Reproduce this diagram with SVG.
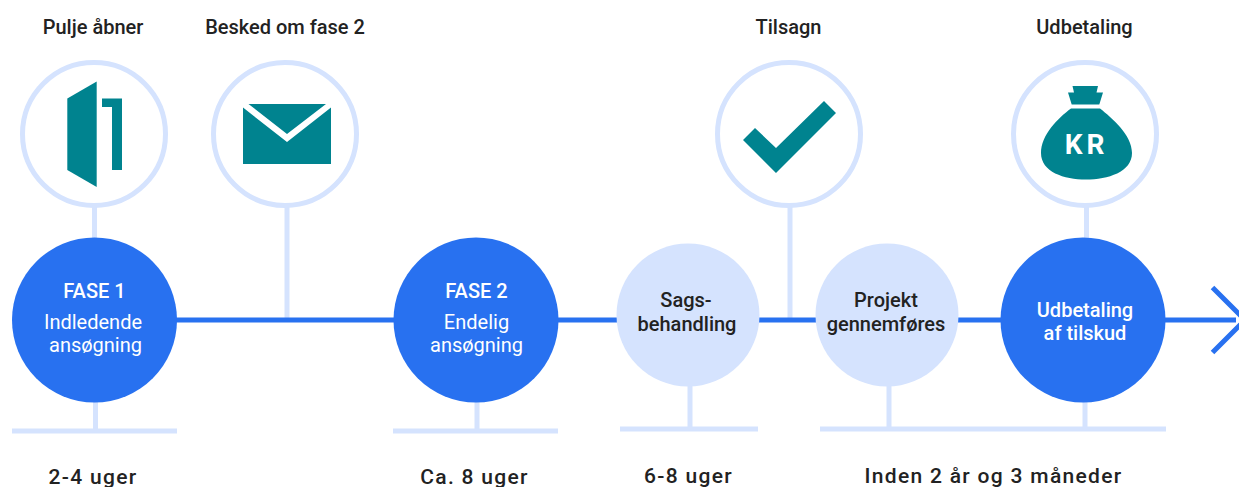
<svg xmlns="http://www.w3.org/2000/svg" width="1239" height="487" viewBox="0 0 1239 487">
<style>
text{font-family:Roboto,"Liberation Sans",sans-serif;text-anchor:middle}
.top{font-size:20px;font-weight:500;fill:#222}
.dur{font-size:21px;font-weight:500;fill:#222;letter-spacing:1.3px}
.w{fill:#fff;font-size:20px}
.b{font-weight:500}
.d{fill:#2871F0}
.l{fill:#D5E3FE}
.k{stroke:#D5E3FE;stroke-width:5;fill:none}
.ring{fill:#fff;stroke:#D5E3FE;stroke-width:5}
.t{fill:#00838F}
.dk{font-weight:500;fill:#222;font-size:20px}
</style>
<rect width="1239" height="487" fill="#fff"/>
<g id="connectors">
<path class="k" d="M94.500 205V240M95.500 400V431M12 431H177M287 205V320M477 400V431M393 431H558M690 385V429M620 429H758M790 205V320M889 385V429M820 429H1166M1086.500 205V240M1085 400V429"/>
<path d="M170 320H1236" stroke="#2871F0" stroke-width="5" fill="none"/>
<path d="M1212.500 287.500L1245 320L1212.500 352.500" stroke="#2871F0" stroke-width="5" fill="none"/>
</g>
<g id="pulje"><text class="top" x="93" y="33.500">Pulje åbner</text><circle class="ring" cx="94" cy="134" r="71.500"/>
<path class="t" d="M67.300 98.500L96.700 81.500V187L67.300 170Z"/><path class="t" d="M102 98.500H122V170H112V107H102Z"/></g>
<g id="besked"><text class="top" x="285" y="33.500">Besked om fase 2</text><circle class="ring" cx="285" cy="134" r="71.500"/>
<path class="t" d="M248.500 104H326L287 134ZM243 107.500L287 142L331 107.500V164H243Z"/></g>
<g id="tilsagn"><text class="top" x="788.500" y="33.500">Tilsagn</text><circle class="ring" cx="789" cy="134" r="71.500"/>
<path class="t" d="M743 140L755 128L776 148L824 101L836 113L776 173Z"/></g>
<g id="udbetaling"><text class="top" x="1084.500" y="33.500">Udbetaling</text><circle class="ring" cx="1085" cy="134" r="71.500"/>
<path class="t" d="M1072.500 86H1098L1096.500 92.500H1103L1099.300 104.500H1071.700L1068 92.500H1074ZM1071 108.500H1100C1112 118 1132 135 1132 153C1132 172 1108 179.500 1086 179.500C1064 179.500 1041 172 1041 153C1041 135 1058 118 1071 108.500Z"/>
<text x="1086.500" y="154" style="font-size:28px;font-weight:700;fill:#fff;letter-spacing:4px">KR</text></g>
<g id="fase1"><circle class="d" cx="94.500" cy="320" r="82.500"/><text class="w b" x="94.500" y="298">FASE 1</text><text class="w" x="93" y="328.500">Indledende</text><text class="w" x="95.500" y="352">ansøgning</text></g>
<g id="fase2"><circle class="d" cx="476" cy="320" r="82.500"/><text class="w b" x="476.500" y="298">FASE 2</text><text class="w" x="476.500" y="328.500">Endelig</text><text class="w" x="476.500" y="352">ansøgning</text></g>
<g id="sags"><circle class="l" cx="688" cy="315" r="71.500"/><text class="dk" x="686" y="307">Sags-</text><text class="dk" x="687" y="330.500">behandling</text></g>
<g id="projekt"><circle class="l" cx="887" cy="315" r="71.500"/><text class="dk" x="886" y="307">Projekt</text><text class="dk" x="886" y="330.500">gennemføres</text></g>
<g id="udb"><circle class="d" cx="1083" cy="320" r="82.500"/><text class="w b" x="1085" y="316.500">Udbetaling</text><text class="w b" x="1085" y="339.500">af tilskud</text></g>
<g id="durations">
<text class="dur" x="93" y="484">2-4 uger</text><text class="dur" x="474.500" y="484">Ca. 8 uger</text><text class="dur" x="688.500" y="483">6-8 uger</text><text class="dur" x="993.500" y="483">Inden 2 år og 3 måneder</text>
</g>
</svg>
